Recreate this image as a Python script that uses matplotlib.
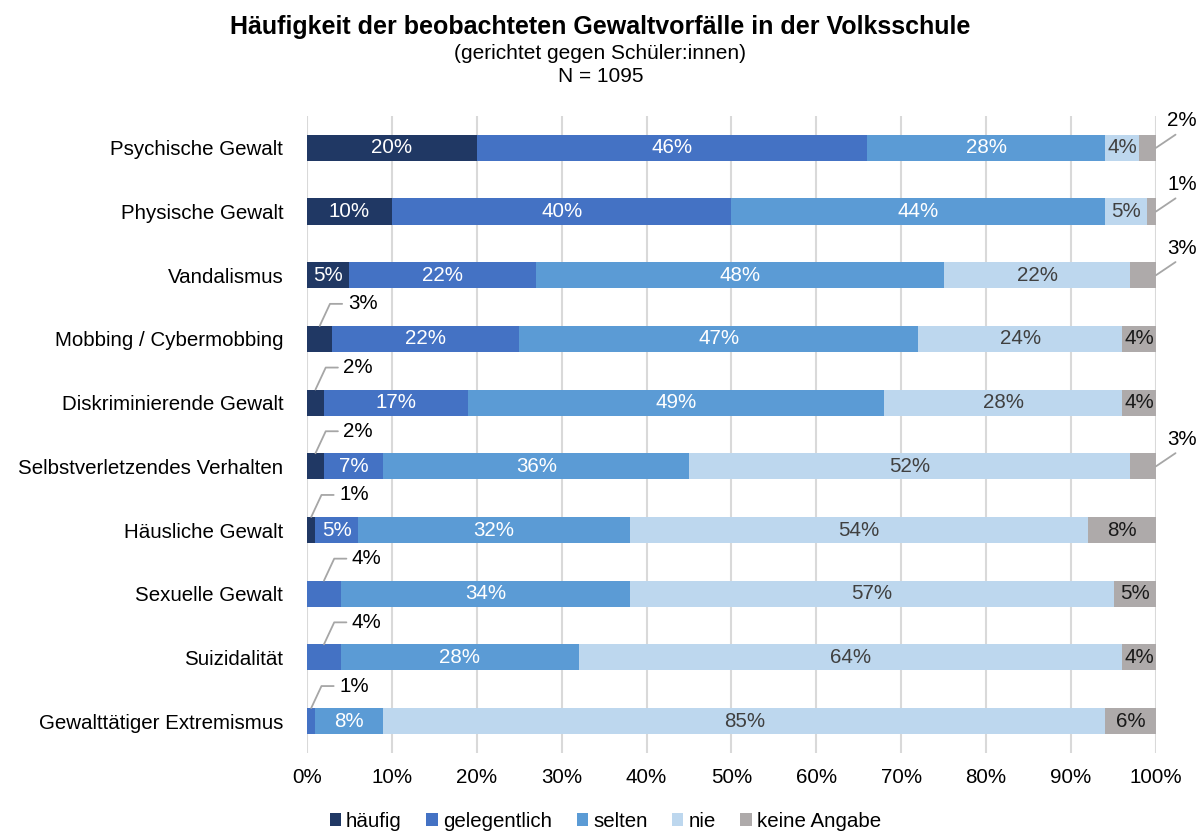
import matplotlib.pyplot as plt
import numpy as np

plt.rcParams['font.family'] = ['Liberation Sans', 'DejaVu Sans']

categories = ['Psychische Gewalt', 'Physische Gewalt', 'Vandalismus',
              'Mobbing / Cybermobbing', 'Diskriminierende Gewalt',
              'Selbstverletzendes Verhalten', 'Häusliche Gewalt',
              'Sexuelle Gewalt', 'Suizidalität', 'Gewalttätiger Extremismus']
haeufig = [20, 10, 5, 3, 2, 2, 1, 0, 0, 0]
gelegentlich = [46, 40, 22, 22, 17, 7, 5, 4, 4, 1]
selten = [28, 44, 48, 47, 49, 36, 32, 34, 28, 8]
nie = [4, 5, 22, 24, 28, 52, 54, 57, 64, 85]
keine_angabe = [2, 1, 3, 4, 4, 3, 8, 5, 4, 6]
series_names = ['häufig', 'gelegentlich', 'selten', 'nie', 'keine Angabe']

colors = ['#203864', '#4472C4', '#5B9BD5', '#BDD7EE', '#AEAAAA']
text_colors = ['white', 'white', 'white', '#404040', '#1a1a1a']

fig = plt.figure(figsize=(12.01, 8.32), dpi=100)
ax = fig.add_axes([0.2556, 0.095, 0.7069, 0.7656])

y = np.arange(len(categories))
series = [haeufig, gelegentlich, selten, nie, keine_angabe]
left = np.zeros(len(categories))
bar_h = 0.41
fs = 14.8

for k, (vals, name) in enumerate(zip(series, series_names)):
    vals = np.array(vals, dtype=float)
    ax.barh(y, vals, left=left, height=bar_h, color=colors[k], label=name,
            zorder=3)
    for i, v in enumerate(vals):
        if v == 0:
            continue
        cx = left[i] + v / 2
        if k < 2 and v <= 4:
            # small segment at the start -> label above with leader line
            ax.annotate(f'{v:.0f}%', xy=(cx, y[i] - bar_h / 2),
                        xytext=(28, 22), textcoords='offset pixels',
                        ha='left', va='center', fontsize=fs, color='black',
                        annotation_clip=False,
                        arrowprops=dict(arrowstyle='-', color='#A6A6A6',
                                        lw=1.3, shrinkB=0, relpos=(0, 0.5),
                                        connectionstyle='angle,angleA=0,angleB=65,rad=0'))
        elif k == 4 and v <= 3:
            ax.annotate(f'{v:.0f}%', xy=(left[i] + v, y[i]),
                        xytext=(26, 27), textcoords='offset pixels',
                        ha='center', va='center', fontsize=fs, color='black',
                        annotation_clip=False,
                        arrowprops=dict(arrowstyle='-', color='#A6A6A6',
                                        lw=1.3, shrinkB=0, relpos=(0.5, 0)))
        else:
            ax.text(cx, y[i], f'{v:.0f}%', ha='center', va='center',
                    fontsize=fs, color=text_colors[k], zorder=4)
    left += vals

ax.set_xlim(0, 100)
ax.set_ylim(len(categories) - 0.5, -0.5)
ax.set_xticks(np.arange(0, 101, 10))
ax.set_xticklabels([f'{t}%' for t in range(0, 101, 10)], fontsize=fs)
ax.set_yticks(y)
ax.set_yticklabels(categories, fontsize=fs)
ax.tick_params(length=0)
ax.tick_params(axis='y', pad=17)
ax.tick_params(axis='x', pad=11)
ax.xaxis.grid(True, color='#D9D9D9', lw=1.5, zorder=0)
for s in ax.spines.values():
    s.set_visible(False)

fig.text(0.5, 0.967, 'Häufigkeit der beobachteten Gewaltvorfälle in der Volksschule',
         ha='center', va='center', fontsize=18, fontweight='bold')
fig.text(0.5, 0.936, '(gerichtet gegen Schüler:innen)', ha='center', va='center',
         fontsize=15)
fig.text(0.5, 0.908, 'N = 1095', ha='center', va='center', fontsize=15)

fig.legend(loc='center', bbox_to_anchor=(0.504, 0.013),
           ncol=5, frameon=False, fontsize=fs,
           handlelength=0.55, handleheight=0.55, handletextpad=0.25,
           columnspacing=1.2)

fig.savefig('out.png', dpi=100)
